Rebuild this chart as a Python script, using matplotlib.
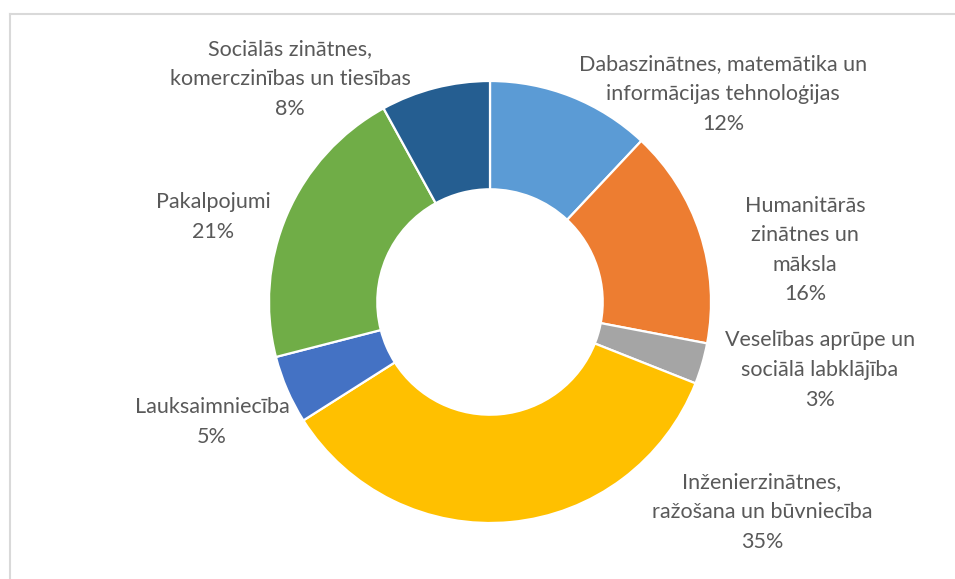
import matplotlib
matplotlib.use("Agg")
import matplotlib.pyplot as plt
from matplotlib.lines import Line2D

categories = [
    "Dabaszinātnes, matemātika un\ninformācijas tehnoloģijas",
    "Humanitārās\nzinātnes un\nmāksla",
    "Veselības aprūpe un\nsociālā labklājība",
    "Inženierzinātnes,\nražošana un būvniecība",
    "Lauksaimniecība",
    "Pakalpojumi",
    "Sociālās zinātnes,\nkomerczinības un tiesības",
]
values = [12, 16, 3, 35, 5, 21, 8]
colors = ["#5B9BD5", "#ED7D31", "#A5A5A5", "#FFC000", "#4472C4", "#70AD47", "#255E91"]

# label centre positions in pixels (x, y from top)
label_pos = [(723, 94), (805, 250), (820, 370), (762, 512), (212, 422), (213, 217), (290, 79)]

W, H = 955, 579
fig = plt.figure(figsize=(W / 100, H / 100), dpi=100)
ax = fig.add_axes([0, 0, 1, 1])

cx, cy, R = 490, H - 302, 221
ax.pie(values, colors=colors, startangle=90, counterclock=False,
       center=(cx, cy), radius=R, frame=True,
       wedgeprops=dict(width=R * 0.49, edgecolor="white", linewidth=1.6))
ax.set_xlim(0, W)
ax.set_ylim(0, H)
ax.axis("off")

for cat, v, (x, y) in zip(categories, values, label_pos):
    ax.text(x, H - y, f"{cat}\n{v}%", ha="center", va="center",
            fontsize=15.5, color="#595959", family="Lato", linespacing=1.6)

fig.add_artist(Line2D([10 / W, 1], [1 - 14 / H, 1 - 14 / H], color="#D9D9D9", lw=1.5))
fig.add_artist(Line2D([10 / W, 10 / W], [0, 1 - 14 / H], color="#D9D9D9", lw=1.5))

fig.savefig("out.png", dpi=100)
